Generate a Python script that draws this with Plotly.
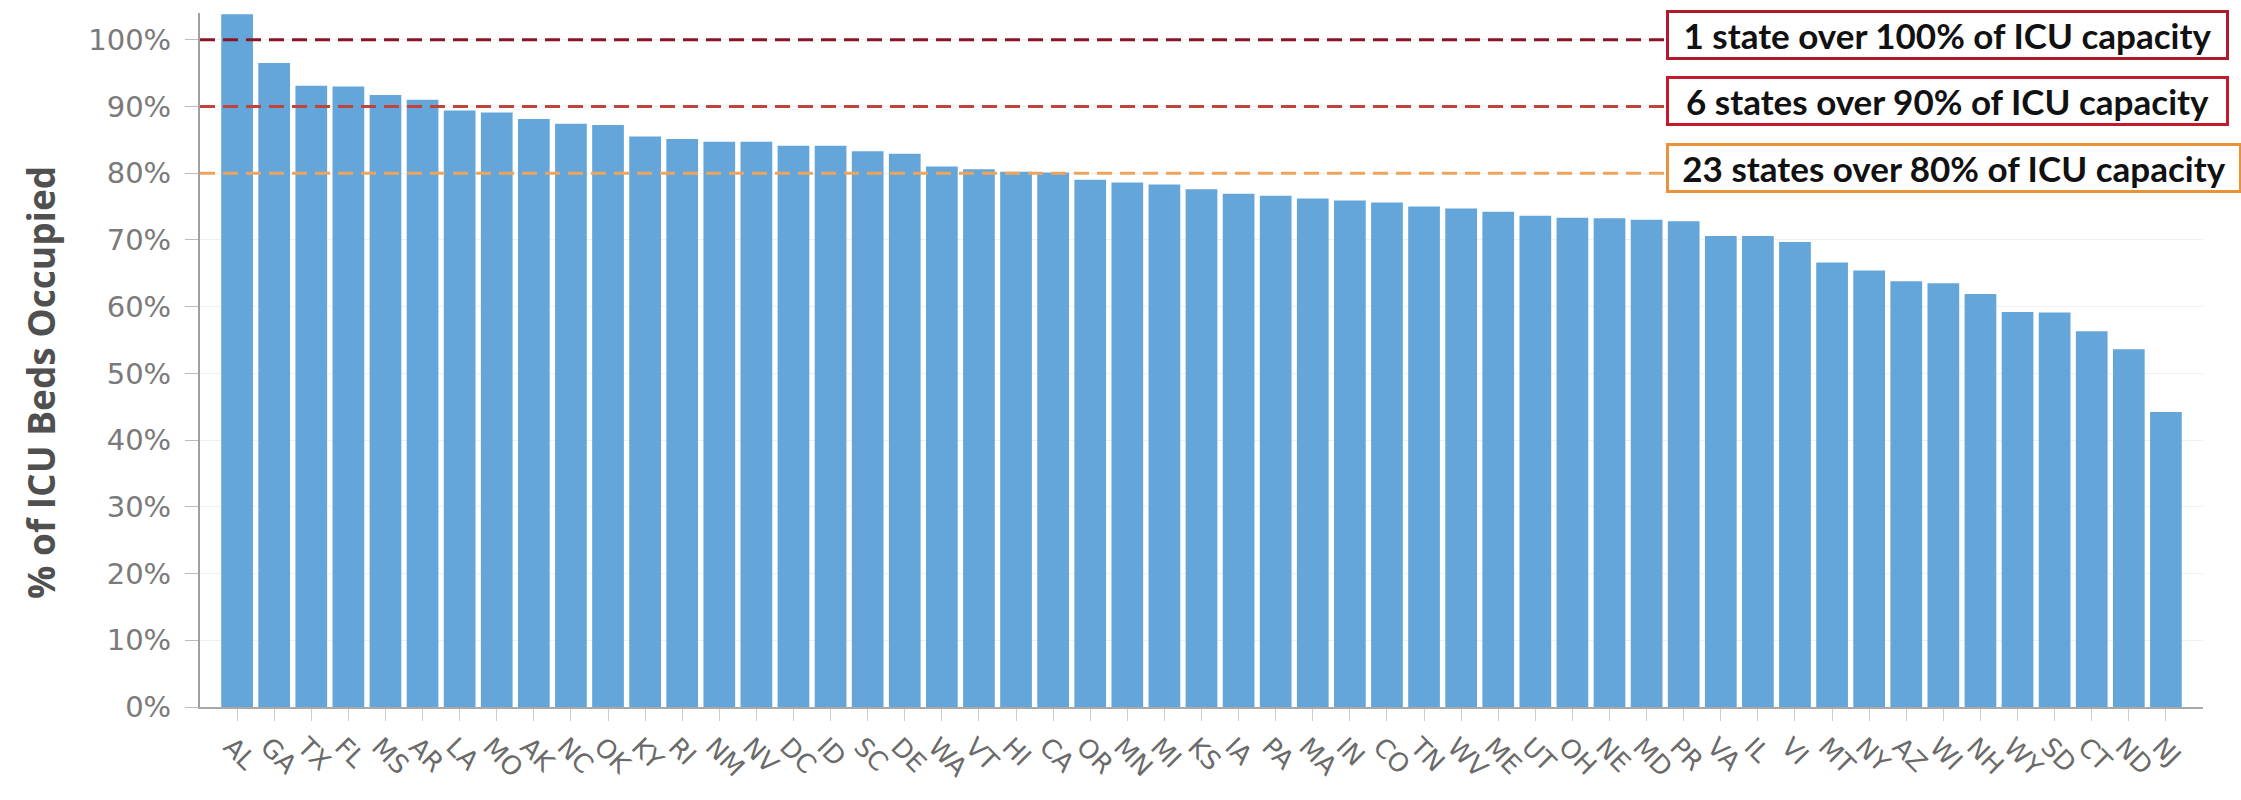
import plotly.graph_objects as go

# ICU occupancy by state/territory, sorted high to low
states = ["AL", "GA", "TX", "FL", "MS", "AR", "LA", "MO", "AK", "NC",
          "OK", "KY", "RI", "NM", "NV", "DC", "ID", "SC", "DE", "WA",
          "VT", "HI", "CA", "OR", "MN", "MI", "KS", "IA", "PA", "MA",
          "IN", "CO", "TN", "WV", "ME", "UT", "OH", "NE", "MD", "PR",
          "VA", "IL", "VI", "MT", "NY", "AZ", "WI", "NH", "WY", "SD",
          "CT", "ND", "NJ"]
pct_occupied = [103.8, 96.5, 93.1, 93.0, 91.7, 91.0, 89.4, 89.1, 88.1, 87.4,
                87.2, 85.5, 85.1, 84.7, 84.7, 84.1, 84.1, 83.3, 82.9, 81.0,
                80.6, 80.2, 80.1, 79.0, 78.6, 78.3, 77.6, 76.9, 76.6, 76.2,
                75.9, 75.6, 75.0, 74.7, 74.2, 73.6, 73.3, 73.25, 73.0, 72.8,
                70.6, 70.6, 69.7, 66.6, 65.4, 63.8, 63.5, 61.9, 59.2, 59.1,
                56.3, 53.6, 44.2]

# Capacity thresholds and their callouts
thresholds = [100, 90, 80]
callouts = ["1 state over 100% of ICU capacity",
            "6 states over 90% of ICU capacity",
            "23 states over 80% of ICU capacity"]
line_colors = ["#8a1526", "#c0443a", "#eda55e"]
box_colors = ["#b01a2a", "#c8182c", "#e8923a"]
box_widths = [555, 555, 568]

y_ticks = list(range(0, 101, 10))
y_tick_text = [f"{t}%" for t in y_ticks]

W, H = 2241, 800
M = dict(l=200, r=38, t=13, b=93)

fig = go.Figure(go.Bar(
    x=states, y=pct_occupied,
    marker=dict(color="#64a5da", line=dict(width=0)),
    hoverinfo="x+y",
))

callout_x = 0.732  # left edge of the callout boxes (paper units)

shapes = []
annotations = []
for thr, txt, lc, bc, bw in zip(thresholds, callouts, line_colors, box_colors, box_widths):
    shapes.append(dict(
        type="line", xref="paper", yref="y",
        x0=0, x1=callout_x, y0=thr, y1=thr,
        line=dict(color=lc, width=3, dash="15px,8px"),
        layer="above",
    ))
    annotations.append(dict(
        xref="paper", yref="y", x=callout_x, y=thr,
        xanchor="left", yanchor="middle", yshift=5,
        text=txt, showarrow=False, align="center", width=bw,
        font=dict(family="Lato", size=35, color="#111111", weight="bold"),
        bgcolor="#ffffff", bordercolor=bc, borderwidth=3, borderpad=1,
    ))

# y-axis title, set slightly below the plot's vertical centre
annotations.append(dict(
    xref="paper", yref="paper", x=-0.080, y=0.468,
    xanchor="center", yanchor="middle", textangle=-90,
    text="% of ICU Beds Occupied", showarrow=False,
    font=dict(family="Open Sans", size=37, color="#505050", weight="bold"),
))

fig.update_layout(
    width=W, height=H, autosize=False,
    margin=M,
    paper_bgcolor="#ffffff", plot_bgcolor="#ffffff",
    bargap=0.145,
    showlegend=False,
    shapes=shapes,
    annotations=annotations,
    xaxis=dict(
        type="category", range=[-1, 53],
        showline=True, linecolor="#a8a8a8", linewidth=2,
        ticks="outside", ticklen=12, tickcolor="#cccccc", tickwidth=1,
        tickangle=45, ticklabelshift=-6,
        tickfont=dict(family="DejaVu Sans", size=26, color="#6a6a6a"),
        showgrid=False, zeroline=False,
    ),
    yaxis=dict(
        range=[0, 104],
        tickvals=y_ticks, ticktext=y_tick_text,
        showline=True, linecolor="#a0a0a0", linewidth=2,
        ticks="outside", ticklen=13, tickcolor="#bbbbbb", tickwidth=1,
        ticklabelstandoff=8,
        tickfont=dict(family="DejaVu Sans", size=29, color="#7a7a7a"),
        showgrid=True, gridcolor="#efefef", gridwidth=1,
        zeroline=False,
    ),
)

fig.write_html("out.html")
